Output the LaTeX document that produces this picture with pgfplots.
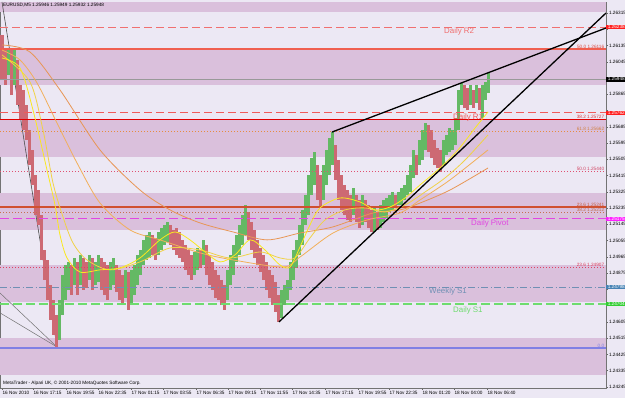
\documentclass[border=0pt]{standalone}
\usepackage{fontspec}
\setmainfont{Liberation Sans}
\usepackage{pgfplots}
\usepackage{pgfplotstable}
\pgfplotsset{compat=1.18}
\definecolor{bgc}{RGB}{236,232,244}
\definecolor{bandc}{RGB}{218,192,220}
\definecolor{upc}{RGB}{100,185,100}
\definecolor{dnc}{RGB}{205,105,115}
\definecolor{maA}{RGB}{250,232,30}
\definecolor{maB}{RGB}{240,210,70}
\definecolor{maC}{RGB}{242,175,90}
\definecolor{maD}{RGB}{232,150,85}
\definecolor{rtwo}{RGB}{240,112,112}
\definecolor{rone}{RGB}{240,90,90}
\definecolor{pivc}{RGB}{225,70,225}
\definecolor{ws1}{RGB}{112,144,180}
\definecolor{ds1}{RGB}{110,220,110}
\definecolor{zeroc}{RGB}{128,128,228}

\pgfplotstableread{
x hi lo
2 1.26193 1.25944
5 1.26121 1.25916
11 1.26110 1.25861
17 1.26055 1.25806
20 1.25916 1.25723
23 1.25889 1.25667
26 1.25806 1.25612
29 1.25667 1.25474
32 1.25557 1.25363
35 1.25418 1.25197
38 1.25335 1.25142
41 1.25197 1.24948
44 1.25003 1.24837
47 1.24948 1.24726
50 1.24809 1.24616
53 1.24726 1.24533
56 1.24643 1.24466
71 1.24920 1.24754
77 1.24937 1.24754
83 1.24959 1.24782
86 1.24937 1.24793
92 1.24959 1.24782
101 1.24959 1.24782
104 1.24937 1.24754
107 1.24920 1.24726
116 1.24920 1.24771
119 1.24893 1.24726
122 1.24865 1.24699
128 1.24881 1.24671
152 1.25086 1.24976
155 1.25070 1.24948
170 1.25142 1.25031
173 1.25114 1.25003
176 1.25125 1.24976
179 1.25103 1.24959
182 1.25059 1.24937
185 1.25031 1.24893
188 1.25003 1.24865
191 1.24976 1.24837
200 1.25003 1.24904
206 1.25031 1.24865
209 1.24976 1.24809
212 1.24937 1.24782
215 1.24893 1.24738
218 1.24865 1.24726
221 1.24837 1.24699
224 1.24809 1.24671
248 1.25214 1.25059
251 1.25158 1.25003
254 1.25114 1.24959
257 1.25059 1.24920
260 1.25014 1.24881
263 1.24976 1.24837
266 1.24937 1.24782
269 1.24893 1.24738
272 1.24865 1.24699
275 1.24826 1.24660
278 1.24754 1.24605
317 1.25474 1.25280
320 1.25418 1.25236
335 1.25584 1.25391
338 1.25501 1.25280
341 1.25418 1.25225
344 1.25363 1.25197
347 1.25335 1.25169
350 1.25308 1.25158
356 1.25308 1.25158
359 1.25280 1.25125
365 1.25280 1.25158
368 1.25252 1.25125
371 1.25225 1.25103
377 1.25214 1.25114
395 1.25308 1.25236
416 1.25529 1.25418
428 1.25695 1.25546
431 1.25667 1.25512
434 1.25612 1.25474
437 1.25568 1.25457
440 1.25557 1.25435
464 1.25916 1.25789
467 1.25900 1.25778
473 1.25889 1.25789
479 1.25900 1.25778
}\dn

\pgfplotstableread{
x hi lo
8 1.26110 1.25972
14 1.26110 1.25916
59 1.24726 1.24505
62 1.24865 1.24643
65 1.24920 1.24726
68 1.24937 1.24782
74 1.24959 1.24809
80 1.24976 1.24809
89 1.24976 1.24837
95 1.24937 1.24809
98 1.24976 1.24826
110 1.24937 1.24782
113 1.24959 1.24809
125 1.24893 1.24738
131 1.24893 1.24699
134 1.24920 1.24754
137 1.24976 1.24809
140 1.25003 1.24865
143 1.25059 1.24920
146 1.25086 1.24948
149 1.25103 1.24959
158 1.25103 1.24976
161 1.25125 1.25003
164 1.25142 1.25031
167 1.25158 1.25047
194 1.24992 1.24865
197 1.25014 1.24893
203 1.25059 1.24920
227 1.24893 1.24726
230 1.24976 1.24809
233 1.25031 1.24865
236 1.25086 1.24937
239 1.25142 1.24976
242 1.25197 1.25031
245 1.25252 1.25086
281 1.24782 1.24627
284 1.24809 1.24699
287 1.24837 1.24726
290 1.24937 1.24782
293 1.25003 1.24837
296 1.25059 1.24904
299 1.25142 1.24976
302 1.25225 1.25031
305 1.25308 1.25142
308 1.25418 1.25197
311 1.25512 1.25308
314 1.25546 1.25363
323 1.25474 1.25280
326 1.25557 1.25363
329 1.25623 1.25418
332 1.25656 1.25474
353 1.25346 1.25197
362 1.25308 1.25142
374 1.25236 1.25103
380 1.25252 1.25125
383 1.25280 1.25158
386 1.25291 1.25180
389 1.25308 1.25214
392 1.25324 1.25225
398 1.25324 1.25252
401 1.25346 1.25252
404 1.25363 1.25280
407 1.25418 1.25308
410 1.25474 1.25324
413 1.25557 1.25402
419 1.25612 1.25474
422 1.25667 1.25501
425 1.25706 1.25557
443 1.25612 1.25474
446 1.25640 1.25529
449 1.25678 1.25546
452 1.25667 1.25557
455 1.25734 1.25584
458 1.25889 1.25667
461 1.25928 1.25806
470 1.25916 1.25806
476 1.25916 1.25817
482 1.25916 1.25734
485 1.25933 1.25833
488 1.25983 1.25872
}\up

\newcommand{\tf}{\fontsize{4.7}{5.2}\selectfont}
\newcommand{\lf}{\fontsize{7.9}{9}\selectfont}

\begin{document}
\begin{tikzpicture}
\fill[bgc] (0,0) rectangle (625pt,398pt);
\begin{axis}[
  at={(0pt,10pt)}, anchor=south west,
  scale only axis, width=606pt, height=386pt,
  xmin=0, xmax=606, ymin=1.24239, ymax=1.26376,
  clip mode=individual,
  axis background/.style={fill=bgc},
  axis line style={draw=black!55, line width=0.7pt},
  tick style={draw=black!60, line width=0.5pt},
  tick align=outside, major tick length=2pt,
  xtick pos=bottom, ytick pos=right, yticklabel pos=right,
  xtick={2,33,66,98,131,163,196,228,260,292,325,358,389,422,454,487},
  xticklabels={16 Nov 2010,16 Nov 17:15,16 Nov 19:55,16 Nov 22:35,17 Nov 01:15,17 Nov 03:55,17 Nov 06:35,17 Nov 09:15,17 Nov 11:55,17 Nov 14:35,17 Nov 17:15,17 Nov 19:55,17 Nov 22:35,18 Nov 01:20,18 Nov 04:00,18 Nov 06:40},
  xticklabel style={font=\tf, anchor=north west, inner sep=0.4pt, yshift=-0.5pt},
  ytick={1.24245,1.24335,1.24425,1.24515,1.24605,1.24695,1.24785,1.24875,1.24965,1.25055,1.25145,1.25235,1.25325,1.25415,1.25505,1.25595,1.25685,1.25775,1.25865,1.25955,1.26045,1.26135,1.26225,1.26315},
  yticklabels={1.24245,1.24335,1.24425,1.24515,1.24605,,,1.24875,1.24965,1.25055,1.25145,1.25235,1.25325,1.25415,1.25505,1.25595,1.25685,,1.25865,,1.26045,1.26135,,1.26315},
  yticklabel style={font=\tf, anchor=west, inner sep=0.5pt, xshift=0.3pt},
]
% bands
\addplot[fill=bandc, draw=none] coordinates {(0,1.26376)(606,1.26376)(606,1.26321)(0,1.26321)} -- cycle;
\addplot[fill=bandc, draw=none] coordinates {(0,1.26116)(606,1.26116)(606,1.25916)(0,1.25916)} -- cycle;
\addplot[fill=bandc, draw=none] coordinates {(0,1.25723)(606,1.25723)(606,1.25518)(0,1.25518)} -- cycle;
\addplot[fill=bandc, draw=none] coordinates {(0,1.25319)(606,1.25319)(606,1.25114)(0,1.25114)} -- cycle;
\addplot[fill=bandc, draw=none] coordinates {(0,1.24920)(606,1.24920)(606,1.24715)(0,1.24715)} -- cycle;
\addplot[fill=bandc, draw=none] coordinates {(0,1.24516)(606,1.24516)(606,1.24311)(0,1.24311)} -- cycle;
% fan lines on the left
\addplot[black!55, line width=0.5pt] coordinates {(0,1.24765)(57,1.24466)};
\addplot[black!55, line width=0.5pt] coordinates {(0,1.24655)(57,1.24466)};
\addplot[black!70, line width=0.6pt] coordinates {(2,1.26376)(57,1.24466)};
% candles
\addplot[draw=none, mark=none, error bars/.cd, y dir=plus, y explicit, error mark=none,
  error bar style={draw=dnc, line width=3pt}]
  table[x=x, y=lo, y error expr=\thisrow{hi}-\thisrow{lo}] {\dn};
\addplot[draw=none, mark=none, error bars/.cd, y dir=plus, y explicit, error mark=none,
  error bar style={draw=upc, line width=3pt}]
  table[x=x, y=lo, y error expr=\thisrow{hi}-\thisrow{lo}] {\up};
% horizontal levels
\addplot[rtwo, line width=0.8pt, dash pattern=on 8pt off 4pt] coordinates {(0,1.26238)(606,1.26238)};
\addplot[color={rgb,255:red,240;green,95;blue,80}, line width=1.3pt] coordinates {(0,1.26116)(606,1.26116)};
\addplot[black!40, line width=0.8pt] coordinates {(0,1.25948)(606,1.25948)};
\addplot[rone, line width=0.8pt, dash pattern=on 8pt off 4pt] coordinates {(0,1.25762)(606,1.25762)};
\addplot[color={rgb,255:red,225;green,0;blue,0}, line width=1.3pt] coordinates {(0,1.25727)(606,1.25727)};
\addplot[color={rgb,255:red,232;green,140;blue,64}, line width=0.8pt, dash pattern=on 1pt off 2pt] coordinates {(0,1.25662)(606,1.25662)};
\addplot[color={rgb,255:red,224;green,80;blue,112}, line width=0.8pt, dash pattern=on 1pt off 2pt] coordinates {(0,1.25440)(606,1.25440)};
\addplot[color={rgb,255:red,208;green,80;blue,48}, line width=1.2pt] coordinates {(0,1.25241)(606,1.25241)};
\addplot[color={rgb,255:red,200;green,112;blue,80}, line width=0.8pt, dash pattern=on 1pt off 2pt] coordinates {(0,1.25212)(606,1.25212)};
\addplot[pivc, line width=1pt, dash pattern=on 9pt off 4pt] coordinates {(0,1.25175)(606,1.25175)};
\addplot[color={rgb,255:red,224;green,64;blue,96}, line width=0.8pt, dash pattern=on 1pt off 2pt] coordinates {(0,1.24907)(606,1.24907)};
\addplot[ws1, line width=0.8pt, dash pattern=on 7pt off 2.5pt on 1pt off 2.5pt] coordinates {(0,1.24798)(606,1.24798)};
\addplot[ds1, line width=1.2pt, dash pattern=on 9pt off 4pt] coordinates {(0,1.24704)(606,1.24704)};
\addplot[zeroc, line width=2pt] coordinates {(0,1.24461)(606,1.24461)};
% moving averages
\addplot[maD, line width=0.8pt, smooth, tension=0.5] coordinates {(2,1.26138)(30,1.26099)(60,1.25889)(100,1.25557)(140,1.25335)(170,1.25225)(200,1.25153)(233,1.25103)(267,1.25059)(300,1.25097)(333,1.25131)(373,1.25208)(400,1.25225)(420,1.25263)(450,1.25335)(488,1.25457)};
\addplot[maC, line width=0.8pt, smooth, tension=0.5] coordinates {(2,1.26110)(20,1.26055)(37,1.25928)(57,1.25706)(77,1.25485)(100,1.25263)(130,1.25114)(160,1.25059)(200,1.24987)(233,1.24948)(283,1.24909)(300,1.24964)(333,1.25097)(367,1.25169)(400,1.25208)(420,1.25280)(450,1.25391)(488,1.25557)};
\addplot[maB, line width=0.8pt, smooth, tension=0.5] coordinates {(2,1.26083)(30,1.25933)(43,1.25667)(53,1.25374)(63,1.25186)(73,1.25042)(87,1.24948)(110,1.24893)(140,1.24937)(170,1.25014)(200,1.25003)(230,1.24959)(260,1.24992)(280,1.24959)(295,1.24959)(310,1.25070)(325,1.25169)(345,1.25225)(365,1.25236)(385,1.25214)(405,1.25252)(425,1.25324)(445,1.25402)(465,1.25501)(488,1.25640)};
\addplot[maA, line width=0.8pt, smooth, tension=0.5] coordinates {(2,1.26066)(20,1.26011)(33,1.25778)(47,1.25446)(55,1.25252)(60,1.25086)(67,1.24959)(80,1.24881)(100,1.24893)(120,1.24904)(140,1.24959)(160,1.25059)(175,1.25103)(190,1.25059)(205,1.24992)(220,1.24937)(235,1.24976)(250,1.25059)(265,1.25003)(280,1.24920)(290,1.24909)(300,1.25020)(310,1.25142)(320,1.25236)(340,1.25291)(360,1.25269)(375,1.25225)(390,1.25241)(405,1.25291)(420,1.25363)(440,1.25457)(458,1.25557)(475,1.25678)(488,1.25767)};
% trend lines
\addplot[black, line width=1.3pt] coordinates {(279,1.24605)(606,1.26315)};
\addplot[black, line width=1.3pt] coordinates {(332,1.25656)(606,1.26232)};
% level names
\node[anchor=north west, inner sep=0pt, font=\lf, text=rtwo] at (axis cs:444,1.26232) {Daily R2};
\node[anchor=north west, inner sep=0pt, font=\lf, text=rone] at (axis cs:453,1.25759) {Daily R1};
\node[anchor=north west, inner sep=0pt, font=\lf, text=pivc] at (axis cs:471,1.25172) {Daily Pivot};
\node[anchor=north west, inner sep=0pt, font=\lf, text=ws1] at (axis cs:429,1.24793) {Weekly S1};
\node[anchor=north west, inner sep=0pt, font=\lf, text=ds1] at (axis cs:453,1.24691) {Daily S1};
% fib labels
\node[anchor=south east, inner sep=0.6pt, font=\tf, text={rgb,255:red,220;green,70;blue,60}] at (axis cs:605,1.26116) {50.0 1.26116};
\node[anchor=south east, inner sep=0.6pt, font=\tf, text={rgb,255:red,220;green,60;blue,60}] at (axis cs:605,1.25727) {38.2 1.25727};
\node[anchor=south east, inner sep=0.6pt, font=\tf, text={rgb,255:red,210;green,130;blue,70}] at (axis cs:605,1.25662) {61.8 1.25662};
\node[anchor=south east, inner sep=0.6pt, font=\tf, text={rgb,255:red,210;green,70;blue,100}] at (axis cs:605,1.25440) {50.0 1.25440};
\node[anchor=south east, inner sep=0.6pt, font=\tf, text={rgb,255:red,200;green,90;blue,60}] at (axis cs:605,1.25241) {23.6 1.25241};
\node[anchor=south east, inner sep=0.6pt, font=\tf, text={rgb,255:red,190;green,110;blue,80}] at (axis cs:605,1.25212) {38.2 1.25212};
\node[anchor=south east, inner sep=0.6pt, font=\tf, text={rgb,255:red,220;green,60;blue,90}] at (axis cs:605,1.24907) {23.6 1.24907};
\node[anchor=south east, inner sep=0.6pt, font=\tf, text=zeroc] at (axis cs:605,1.24461) {0.0};
% header and footer
\node[anchor=north west, inner sep=0pt, font=\tf] at (axis cs:3,1.26370) {EURUSD,M5 1.25946 1.25949 1.25932 1.25948};
\node[anchor=south west, inner sep=0pt, font=\tf] at (axis cs:3,1.24250) {MetaTrader - Alpari UK, © 2001-2010 MetaQuotes Software Corp.};
% price boxes on the scale
\node[anchor=west, fill={rgb,255:red,255;green,30;blue,30}, text=white, inner xsep=1.6pt, inner ysep=0.7pt, font=\tf] at (axis cs:606,1.26238) {1.26238};
\node[anchor=west, fill=black, text=white, inner xsep=1.6pt, inner ysep=1pt, font=\tf] at (axis cs:606,1.25948) {1.25948};
\node[anchor=west, fill={rgb,255:red,255;green,30;blue,30}, text=white, inner xsep=1.6pt, inner ysep=0.7pt, font=\tf] at (axis cs:606,1.25762) {1.25762};
\node[anchor=west, fill={rgb,255:red,255;green,30;blue,255}, text=white, inner xsep=1.6pt, inner ysep=0.7pt, font=\tf] at (axis cs:606,1.25175) {1.25175};
\node[anchor=west, fill={rgb,255:red,70;green,130;blue,180}, text=white, inner xsep=1.6pt, inner ysep=0.7pt, font=\tf] at (axis cs:606,1.24798) {1.24798};
\node[anchor=west, fill={rgb,255:red,50;green,205;blue,50}, text=white, inner xsep=1.6pt, inner ysep=0.7pt, font=\tf] at (axis cs:606,1.24704) {1.24704};
\end{axis}
\pgfresetboundingbox
\path[use as bounding box] (0,0) rectangle (625pt,398pt);
\end{tikzpicture}
\end{document}
